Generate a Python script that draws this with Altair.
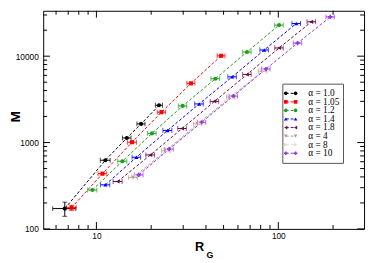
import altair as alt
import pandas as pd

labels = ["α = 1.0", "α = 1.05", "α = 1.2", "α = 1.4", "α = 1.8", "α = 4", "α = 8", "α = 10"]
colors = ["#000000", "#ff0000", "#1f9e1f", "#0000ff", "#670748", "#c09494", "#dcdcdc", "#9a34e0"]
shapes = ["circle", "square", "circle", "triangle-up", "triangle-left", "triangle-down", "triangle-right", "cross"]

rg_a1 = [6.7, 11.2, 14.7, 17.6, 22.1]
m_a1 = [172, 624, 1130, 1644, 2700]
drg_a1 = [0.95, 0.7, 0.8, 0.9, 1.0]
dm_a1 = [32, 0, 0, 0, 0]

rg_a105 = [7.3, 10.8, 15.7, 22.8, 33.1, 48.5]
m_a105 = [176, 436, 1009, 2250, 4850, 10100]
drg_a105 = [0.45, 0.6, 0.9, 1.2, 1.7, 2.4]
dm_a105 = [12, 0, 0, 0, 0, 0]

rg_a12 = [9.5, 13.9, 20.2, 29.8, 45.1, 67.3, 101]
m_a12 = [282, 608, 1276, 2654, 5480, 11190, 22900]
drg_a12 = [0.55, 0.8, 1.1, 1.6, 2.5, 3.6, 5.5]

rg_a14 = [11.2, 16.6, 24.6, 36.7, 55.8, 83.7, 125.6]
m_a14 = [324, 676, 1380, 2800, 5770, 11800, 23900]
drg_a14 = [0.65, 0.9, 1.4, 2.0, 3.0, 4.5, 6.8]

rg_a18 = [13.1, 19.8, 29.6, 44.6, 67.3, 101, 152]
m_a18 = [354, 718, 1455, 3000, 6140, 12450, 25000]
drg_a18 = [0.75, 1.1, 1.6, 2.4, 3.6, 5.4, 8.2]

rg_a4 = [15.9, 24.1, 36.0, 54.7, 82.0]
m_a4 = [393, 804, 1644, 3366, 6700]
drg_a4 = [0.9, 1.3, 1.9, 2.9, 4.4]

rg_a8 = [16.5, 24.6, 37.0, 55.6, 83.5]
m_a8 = [410, 820, 1680, 3400, 6900]
drg_a8 = [0.9, 1.3, 2.0, 3.0, 4.5]

rg_a10 = [17.1, 25.1, 37.9, 56.6, 85.5, 127.6, 193]
m_a10 = [422, 839, 1718, 3450, 7110, 14190, 28500]
drg_a10 = [0.95, 1.35, 2.0, 3.0, 4.6, 6.8, 10.3]

x_major = [10, 100]
x_minor = [6, 7, 8, 9, 20, 30, 40, 50, 60, 70, 80, 90, 200]
y_major = [100, 1000, 10000]
y_minor = [200, 300, 400, 500, 600, 700, 800, 900,
           2000, 3000, 4000, 5000, 6000, 7000, 8000, 9000, 20000, 30000]

series = [
    (rg_a1, m_a1, drg_a1, dm_a1),
    (rg_a105, m_a105, drg_a105, dm_a105),
    (rg_a12, m_a12, drg_a12, None),
    (rg_a14, m_a14, drg_a14, None),
    (rg_a18, m_a18, drg_a18, None),
    (rg_a4, m_a4, drg_a4, None),
    (rg_a8, m_a8, drg_a8, None),
    (rg_a10, m_a10, drg_a10, None),
]

rows = []
for lab, (rg, m, drg, dm) in zip(labels, series):
    for i in range(len(rg)):
        d = dm[i] if dm is not None else 0
        rows.append({"series": lab, "R": rg[i], "M": m[i],
                     "xlo": rg[i] - drg[i], "xhi": rg[i] + drg[i],
                     "ylo": m[i] - d, "yhi": m[i] + d, "dm": d})
df = pd.DataFrame(rows)

W, H = 328, 223
xs = alt.Scale(type="log", domain=[5.1, 296], nice=False)
ys = alt.Scale(type="log", domain=[100, 33550], nice=False)
cs = alt.Scale(domain=labels, range=colors)
ss = alt.Scale(domain=labels, range=shapes)

xaxis = alt.Axis(values=x_major, format="d", title=None)
yaxis = alt.Axis(values=y_major, format="d", title="M", titleFont="Liberation Sans",
                 titleFontWeight="bold", titleFontSize=14, titleX=-24, titleY=108,
                 titleBaseline="alphabetic", titleAlign="center", labelPadding=5)

base = alt.Chart(df)
col = alt.Color("series:N", scale=cs, legend=None)

lines = base.mark_line(strokeDash=[3, 2], strokeWidth=1).encode(
    x=alt.X("R:Q", scale=xs, axis=xaxis),
    y=alt.Y("M:Q", scale=ys, axis=yaxis),
    color=col, detail="series:N", order="R:Q")

xerr = base.mark_rule(strokeWidth=1).encode(
    x=alt.X("xlo:Q", scale=xs), x2="xhi:Q", y=alt.Y("M:Q", scale=ys), color=col)
xcap_lo = base.mark_tick(orient="vertical", size=5, thickness=1).encode(
    x=alt.X("xlo:Q", scale=xs), y=alt.Y("M:Q", scale=ys), color=col)
xcap_hi = base.mark_tick(orient="vertical", size=5, thickness=1).encode(
    x=alt.X("xhi:Q", scale=xs), y=alt.Y("M:Q", scale=ys), color=col)

ybase = base.transform_filter("datum.dm > 0")
yerr = ybase.mark_rule(strokeWidth=1).encode(
    x=alt.X("R:Q", scale=xs), y=alt.Y("ylo:Q", scale=ys), y2="yhi:Q", color=col)
ycap_lo = ybase.mark_tick(orient="horizontal", size=5, thickness=1).encode(
    x=alt.X("R:Q", scale=xs), y=alt.Y("ylo:Q", scale=ys), color=col)
ycap_hi = ybase.mark_tick(orient="horizontal", size=5, thickness=1).encode(
    x=alt.X("R:Q", scale=xs), y=alt.Y("yhi:Q", scale=ys), color=col)

points = base.mark_point(filled=True, size=18, opacity=1).encode(
    x=alt.X("R:Q", scale=xs), y=alt.Y("M:Q", scale=ys), color=col,
    shape=alt.Shape("series:N", scale=ss, legend=None))

# inward axis ticks on all four sides
xmaj = alt.Chart(pd.DataFrame({"t": x_major}))
xmin = alt.Chart(pd.DataFrame({"t": x_minor}))
ymaj = alt.Chart(pd.DataFrame({"t": y_major}))
ymin = alt.Chart(pd.DataFrame({"t": y_minor}))
tick_layers = []
for src, L in [(xmaj, 7), (xmin, 4)]:
    tick_layers.append(src.mark_rule(color="black", strokeWidth=1).encode(
        x=alt.X("t:Q", scale=xs), y=alt.value(0), y2=alt.value(L)))
    tick_layers.append(src.mark_rule(color="black", strokeWidth=1).encode(
        x=alt.X("t:Q", scale=xs), y=alt.value(H), y2=alt.value(H - L)))
for src, L in [(ymaj, 7), (ymin, 4)]:
    tick_layers.append(src.mark_rule(color="black", strokeWidth=1).encode(
        y=alt.Y("t:Q", scale=ys), x=alt.value(0), x2=alt.value(L)))
    tick_layers.append(src.mark_rule(color="black", strokeWidth=1).encode(
        y=alt.Y("t:Q", scale=ys), x=alt.value(W), x2=alt.value(W - L)))

main = alt.layer(lines, xerr, xcap_lo, xcap_hi, yerr, ycap_lo, ycap_hi, points, *tick_layers)

# legend box
ldf = pd.DataFrame({"series": labels})
lbase = alt.Chart(ldf)
ly = alt.Y("series:N", scale=alt.Scale(domain=labels, range=[80, 150], padding=0), axis=None)
lcol = alt.Color("series:N", scale=cs, legend=None)
box = alt.Chart(alt.Data(values=[{"a": 1}])).mark_rect(
    fill="white", stroke="#555555", strokeWidth=1).encode(
    x=alt.value(245), x2=alt.value(307), y=alt.value(75), y2=alt.value(156))
lline = lbase.mark_rule(strokeDash=[3, 2], strokeWidth=1).encode(
    x=alt.value(248), x2=alt.value(258), y=ly, color=lcol)
lshape = alt.Shape("series:N", scale=ss, legend=None)
lpt1 = lbase.mark_point(filled=True, size=14, opacity=1).encode(
    x=alt.value(248), y=ly, color=lcol, shape=lshape)
lpt2 = lbase.mark_point(filled=True, size=14, opacity=1).encode(
    x=alt.value(258), y=ly, color=lcol, shape=lshape)
ltext = lbase.mark_text(align="left", baseline="middle", font="Liberation Serif",
                        fontSize=9.5, color="black").encode(
    x=alt.value(271), y=ly, text="series:N")
legend = alt.layer(box, lline, lpt1, lpt2, ltext)

one = alt.Data(values=[{"a": 1}])
r_title = alt.Chart(one).mark_text(text="R", font="Liberation Sans", fontWeight="bold",
                                   fontSize=13, align="center", baseline="alphabetic",
                                   color="black").encode(x=alt.value(160), y=alt.value(246))
g_title = alt.Chart(one).mark_text(text="G", font="Liberation Sans", fontWeight="bold",
                                   fontSize=9, align="left", baseline="alphabetic",
                                   color="black").encode(x=alt.value(167), y=alt.value(253))

chart = alt.layer(main, legend, r_title, g_title).resolve_scale(
    x="independent", y="independent", color="independent", shape="independent"
).properties(
    width=W, height=H, autosize="none",
    padding={"left": 36, "top": 0, "right": 2, "bottom": 32}
).configure_view(stroke="black", strokeWidth=1).configure_axis(
    ticks=False, domain=False, grid=False, labelFont="Liberation Sans",
    labelFontSize=8.5, labelColor="black", labelPadding=3
)

chart.save("out.html", embed_options={"renderer": "svg", "actions": False})
